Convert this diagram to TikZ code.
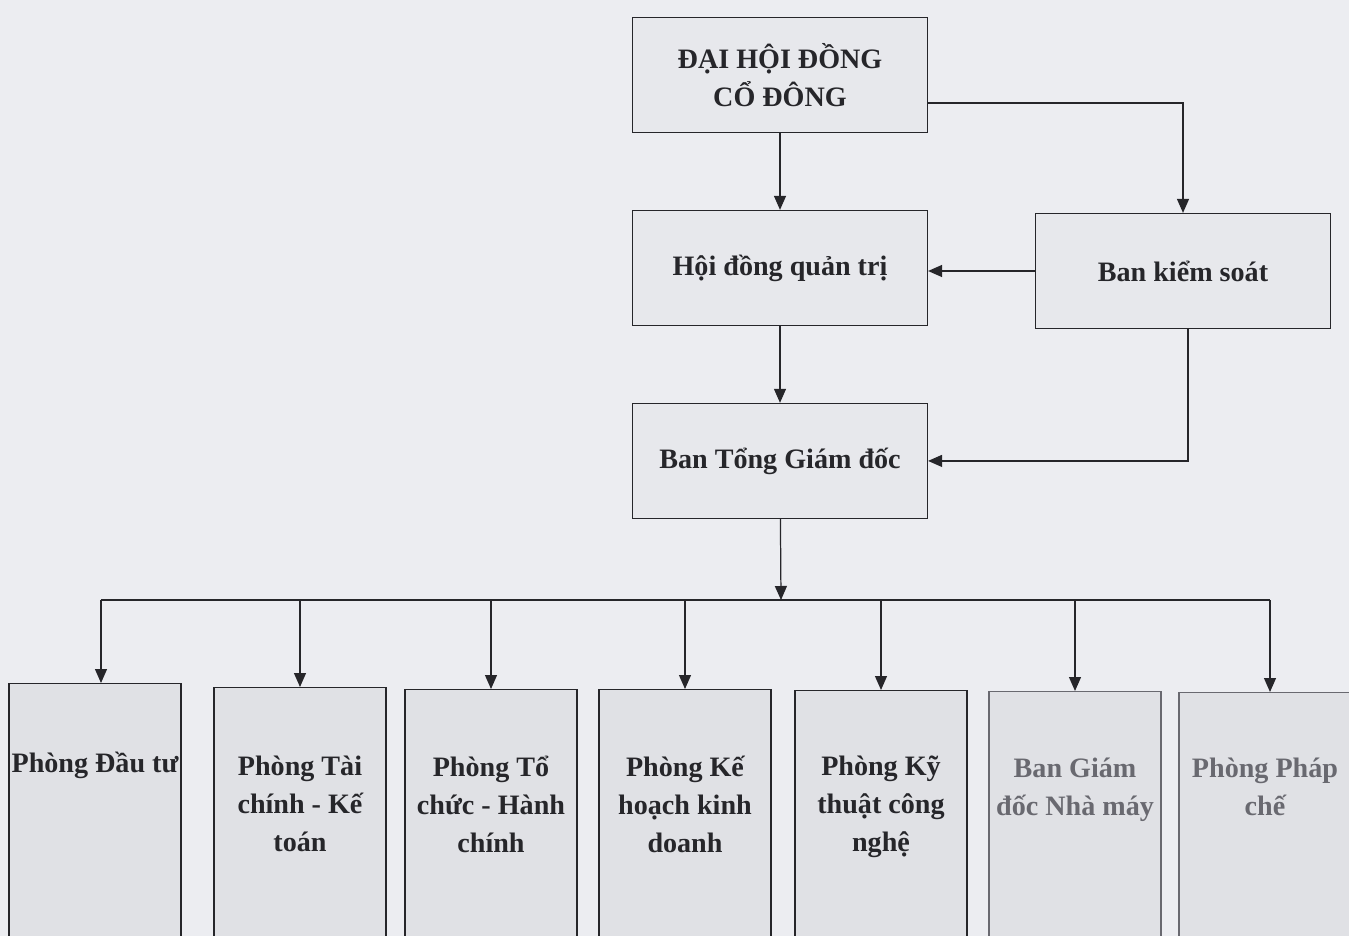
\documentclass[tikz,border=0pt]{standalone}
\usepackage{fontspec}
\setmainfont{Liberation Serif}
\usetikzlibrary{arrows.meta, positioning}
\definecolor{paper}{RGB}{236,237,241}
\definecolor{boxfill}{RGB}{231,232,236}
\definecolor{deptfill}{RGB}{224,225,229}
\definecolor{ink}{RGB}{38,38,42}
\definecolor{fade}{RGB}{105,105,112}

\begin{document}
\begin{tikzpicture}[
  x=0.02cm, y=-0.02cm,
  node distance=3.86cm,
  font=\fontsize{16}{21.6}\selectfont\bfseries,
  mainbox/.style={draw=ink, fill=boxfill, line width=0.7pt, rectangle, align=center, text=ink, minimum width=5.9cm, minimum height=2.3cm},
  deptbox/.style={draw=ink, fill=deptfill, line width=0.7pt, rectangle, anchor=north, minimum width=3.44cm, minimum height=6cm},
  deptname/.style={anchor=north, align=center, text=ink, inner sep=0pt},
  arr/.style={-{Triangle[length=0.28cm, width=0.24cm]}, draw=ink, line width=0.7pt},
  link/.style={draw=ink, line width=0.7pt}
]
\useasboundingbox[fill=paper] (0,0) rectangle (1349,936);

\node[mainbox] (dhdcd) at (780,75) {ĐẠI HỘI ĐỒNG\\CỔ ĐÔNG};
\node[mainbox] (hdqt) [below of=dhdcd] {Hội đồng quản trị};
\node[mainbox] (btgd) [below of=hdqt] {Ban Tổng Giám đốc};
\node[mainbox] (bks) at (1183,271) {Ban kiểm soát};

\node[deptbox] (dautu) at (95,683) {};
\node[deptbox] (taichinh) at (300,687) {};
\node[deptbox] (tochuc) at (491,689) {};
\node[deptbox] (kehoach) at (685,689) {};
\node[deptbox] (kythuat) at (881,690) {};
\node[deptbox, draw=fade] (nhamay) at (1075,691) {};
\node[deptbox, draw=fade] (phapche) at (1265,692) {};

\node[deptname] (lbl1) at (95,752) {Phòng Đầu tư};
\node[deptname] (lbl2) at (300,756) {Phòng Tài\\chính - Kế\\toán};
\node[deptname] (lbl3) at (491,756) {Phòng Tổ\\chức - Hành\\chính};
\node[deptname] (lbl4) at (685,756) {Phòng Kế\\hoạch kinh\\doanh};
\node[deptname] (lbl5) at (881,756) {Phòng Kỹ\\thuật công\\nghệ};
\node[deptname, text=fade] (lbl6) at (1075,758) {Ban Giám\\đốc Nhà máy};
\node[deptname, text=fade] (lbl7) at (1265,758) {Phòng Pháp\\chế};

\coordinate (bus) at (781,600);

\draw[arr] (dhdcd) -- (hdqt);
\draw[arr] (hdqt) -- (btgd);
\draw[arr] ([yshift=-0.56cm]dhdcd.east) -| (bks.north);
\draw[arr] (bks.west) -- (hdqt.east |- bks.west);
\draw[arr] ([xshift=0.1cm]bks.south) |- (btgd.east);
\draw[arr] (btgd) -- (bus);
\draw[link] ([xshift=0.12cm]bus -| dautu.north) -- ([xshift=0.1cm]bus -| phapche.north);

\draw[arr] ([xshift=0.12cm]bus -| dautu.north) -- ([xshift=0.12cm]dautu.north);
\draw[arr] (bus -| taichinh.north) -- (taichinh.north);
\draw[arr] (bus -| tochuc.north) -- (tochuc.north);
\draw[arr] (bus -| kehoach.north) -- (kehoach.north);
\draw[arr] (bus -| kythuat.north) -- (kythuat.north);
\draw[arr] (bus -| nhamay.north) -- (nhamay.north);
\draw[arr] ([xshift=0.1cm]bus -| phapche.north) -- ([xshift=0.1cm]phapche.north);
\end{tikzpicture}
\end{document}
